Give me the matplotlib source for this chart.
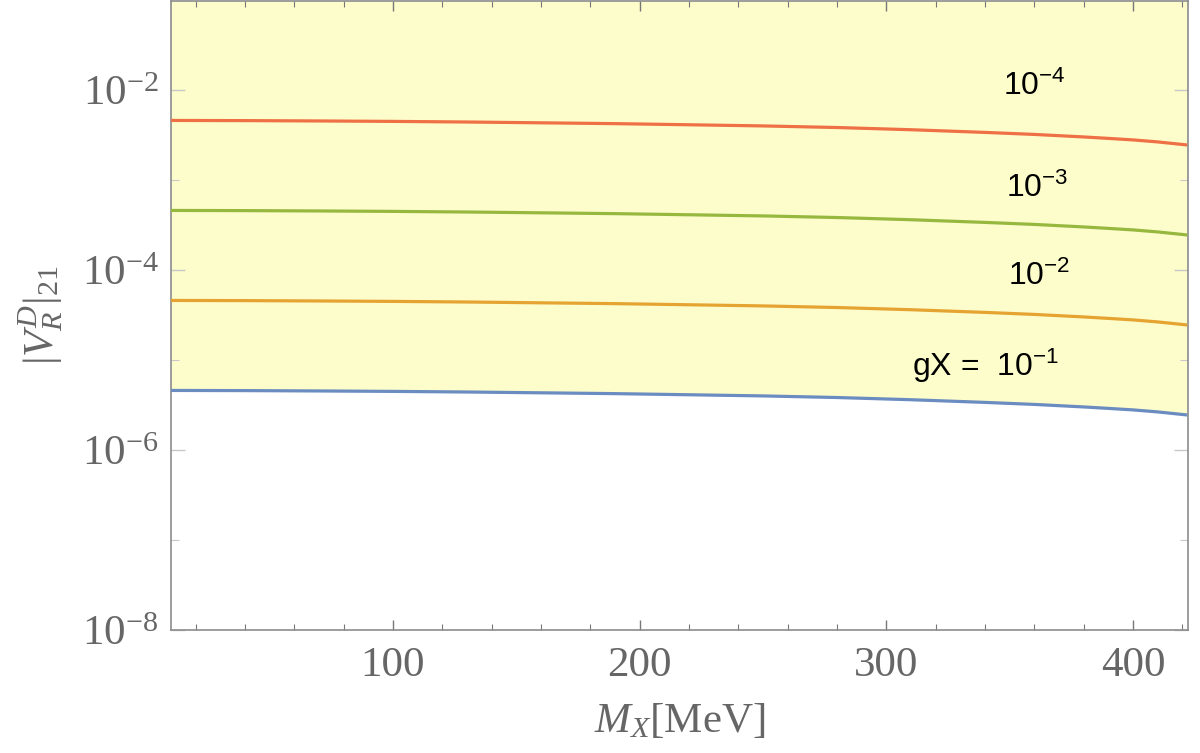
import matplotlib
matplotlib.use("Agg")
import matplotlib.pyplot as plt
from matplotlib.ticker import FixedLocator, NullFormatter

plt.rcParams['font.family'] = 'Liberation Serif'
plt.rcParams['mathtext.fontset'] = 'custom'
plt.rcParams['mathtext.rm'] = 'Liberation Serif'
plt.rcParams['mathtext.it'] = 'Liberation Serif:italic'
plt.rcParams['mathtext.sf'] = 'Liberation Sans'

# M_X in MeV
mx = [10, 40, 70, 100, 130, 160, 190, 220, 250, 280, 310, 340, 360, 380, 390, 400, 410, 422]

# |V_R^D|_21, one list per gX
v_gx_1e1 = [4.59e-6, 4.57e-6, 4.53e-6, 4.48e-6, 4.41e-6, 4.32e-6, 4.23e-6, 4.11e-6,
            3.99e-6, 3.83e-6, 3.62e-6, 3.38e-6, 3.21e-6, 3.01e-6, 2.90e-6, 2.79e-6,
            2.65e-6, 2.45e-6]
v_gx_1e2 = [4.59e-5, 4.57e-5, 4.53e-5, 4.48e-5, 4.41e-5, 4.32e-5, 4.23e-5, 4.11e-5,
            3.99e-5, 3.83e-5, 3.62e-5, 3.38e-5, 3.21e-5, 3.01e-5, 2.90e-5, 2.79e-5,
            2.65e-5, 2.45e-5]
v_gx_1e3 = [4.59e-4, 4.57e-4, 4.53e-4, 4.48e-4, 4.41e-4, 4.32e-4, 4.23e-4, 4.11e-4,
            3.99e-4, 3.83e-4, 3.62e-4, 3.38e-4, 3.21e-4, 3.01e-4, 2.90e-4, 2.79e-4,
            2.65e-4, 2.45e-4]
v_gx_1e4 = [4.59e-3, 4.57e-3, 4.53e-3, 4.48e-3, 4.41e-3, 4.32e-3, 4.23e-3, 4.11e-3,
            3.99e-3, 3.83e-3, 3.62e-3, 3.38e-3, 3.21e-3, 3.01e-3, 2.90e-3, 2.79e-3,
            2.65e-3, 2.45e-3]

curve_labels = [r'gX =  $\mathsf{10^{-1}}$', r'$\mathsf{10^{-2}}$',
                r'$\mathsf{10^{-3}}$', r'$\mathsf{10^{-4}}$']
label_x = [340, 362, 361, 360]
label_y = [8.6e-6, 8.6e-5, 8.15e-4, 1.11e-2]

y_major = [1e-8, 1e-6, 1e-4, 1e-2]
y_major_labels = [r'$10^{-8}$', r'$10^{-6}$', r'$10^{-4}$', r'$10^{-2}$']
y_minor = [1e-7, 1e-5, 1e-3, 1e-1]
x_major = [100, 200, 300, 400]
x_minor = [20, 40, 60, 80, 120, 140, 160, 180, 220, 240, 260, 280,
           320, 340, 360, 380, 420]

colors = ['#6a8cc0', '#e5a431', '#97b83f', '#ee7044']
fill_color = '#fdfdcb'
gray = '#666666'

fig = plt.figure(figsize=(12, 7.53), dpi=100)
ax = fig.add_axes([171 / 1200, 1 - 630 / 753, (1188 - 171) / 1200, 629 / 753])

xmin, xmax = 10, 422.3
ymin, ymax = 1e-8, 10 ** (-1.011)

ax.fill_between(mx, v_gx_1e1, ymax, color=fill_color, lw=0, zorder=1)
for ys, c in zip([v_gx_1e1, v_gx_1e2, v_gx_1e3, v_gx_1e4], colors):
    ax.plot(mx, ys, color=c, lw=2.3, zorder=3, solid_capstyle='butt')

for lab, lx, ly in zip(curve_labels, label_x, label_y):
    ax.text(lx, ly, lab, fontsize=23, family='Liberation Sans', color='black',
            ha='center', va='center', zorder=4)

ax.set_yscale('log')
ax.set_xlim(xmin, xmax)
ax.set_ylim(ymin, ymax)

ax.set_xticks(x_major)
ax.set_xticklabels([str(v) for v in x_major])
ax.xaxis.set_minor_locator(FixedLocator(x_minor))
ax.yaxis.set_major_locator(FixedLocator(y_major))
ax.set_yticklabels(y_major_labels)
ax.yaxis.set_minor_locator(FixedLocator(y_minor))
ax.yaxis.set_minor_formatter(NullFormatter())

ax.tick_params(axis='x', which='major', direction='in', length=7, width=1,
               color='#777777', top=True, labelsize=31, labelcolor=gray, pad=12)
ax.tick_params(axis='x', which='minor', direction='in', length=4, width=0.8,
               color='#777777', top=True)
ax.tick_params(axis='y', which='major', direction='in', length=10, width=1,
               color='#c8c8c8', right=True, labelsize=31, labelcolor=gray, pad=9)
ax.tick_params(axis='y', which='minor', direction='in', length=6, width=0.8,
               color='#c8c8c8', right=True)

for s in ax.spines.values():
    s.set_color('#8c8c8c')
    s.set_linewidth(1.2)

ax.set_xlabel(r'$M_X$[MeV]', fontsize=31, color=gray, labelpad=12)
ax.set_ylabel(r'$|V_R^D|_{21}$', fontsize=31, color=gray, labelpad=12)

fig.savefig('out.png', dpi=100)
